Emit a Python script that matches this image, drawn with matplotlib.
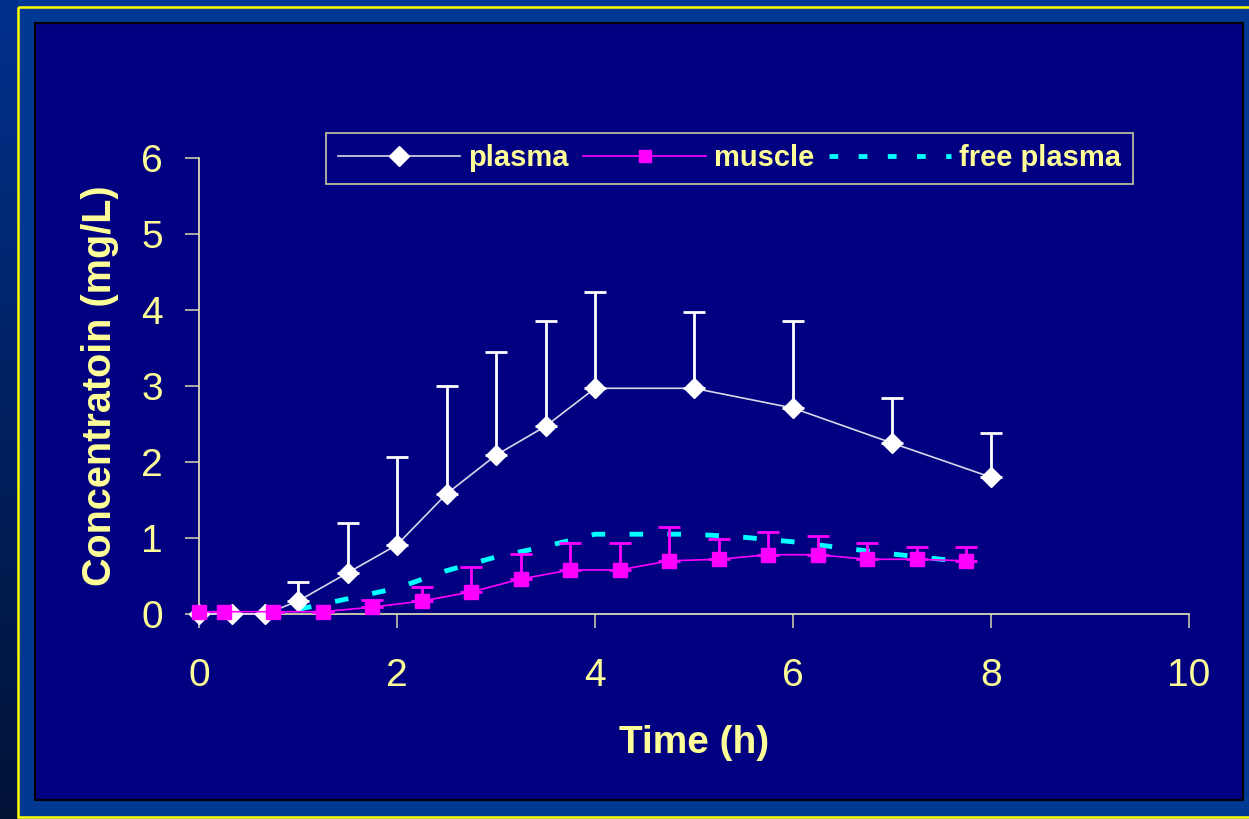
import numpy as np
import matplotlib
matplotlib.use("Agg")
import matplotlib.pyplot as plt
from matplotlib.patches import Rectangle
from matplotlib.lines import Line2D

plt.rcParams['font.family'] = ['Liberation Sans', 'DejaVu Sans']

# plasma (mean, upper SD)
plasma_t = [0, 0.33, 0.67, 1, 1.5, 2, 2.5, 3, 3.5, 4, 5, 6, 7, 8]
plasma_c = [0, 0, 0, 0.17, 0.54, 0.91, 1.58, 2.09, 2.47, 2.97, 2.97, 2.71, 2.25, 1.80]
plasma_sd = [0, 0, 0, 0.25, 0.66, 1.16, 1.42, 1.36, 1.39, 1.27, 1.00, 1.15, 0.59, 0.58]

# muscle
muscle_t = [0, 0.25, 0.75, 1.25, 1.75, 2.25, 2.75, 3.25, 3.75, 4.25,
            4.75, 5.25, 5.75, 6.25, 6.75, 7.25, 7.75]
muscle_c = [0.03, 0.03, 0.03, 0.03, 0.09, 0.17, 0.29, 0.46, 0.58, 0.58,
            0.70, 0.72, 0.78, 0.78, 0.72, 0.72, 0.70]
muscle_sd = [0, 0, 0, 0, 0.09, 0.19, 0.33, 0.33, 0.35, 0.35,
             0.44, 0.27, 0.30, 0.25, 0.21, 0.16, 0.18]

# free plasma
free_t = [1, 1.5, 2, 2.5, 3, 3.5, 4, 5, 5.5, 6, 6.5, 7, 7.5, 7.8]
free_c = [0.06, 0.2, 0.34, 0.57, 0.75, 0.89, 1.05, 1.05, 1.01, 0.95, 0.87, 0.79, 0.72, 0.68]

W, H = 1249, 819
fig = plt.figure(figsize=(W / 100, H / 100), dpi=100)

# slide background
bg = fig.add_axes([0, 0, 1, 1])
bg.set_xlim(0, W)
bg.set_ylim(H, 0)
bg.axis('off')
bg.add_patch(Rectangle((0, 0), W, H, color='#003893', zorder=0))
grad = np.linspace(0, 1, 200).reshape(-1, 1)
cmap = matplotlib.colors.LinearSegmentedColormap.from_list('g', ['#00308c', '#001236'])
bg.imshow(grad, cmap=cmap, extent=(0, 18, H, 0), aspect='auto', zorder=1)
bg.add_patch(Rectangle((18, 7), W, 810, fill=False, edgecolor='#ffff00', lw=1.8, zorder=2))
bg.add_patch(Rectangle((35, 23), 1208, 777, facecolor='#000080', edgecolor='black', lw=1.5, zorder=3))

ax = fig.add_axes([199 / W, 1 - 614 / H, 990 / W, 456 / H])
ax.set_facecolor('none')
ax.set_xlim(0, 10)
ax.set_ylim(0, 6)

ax.plot(free_t, free_c, color='#00ffff', lw=3.5, dashes=(2.8, 5), zorder=3)

ax.errorbar(plasma_t, plasma_c, yerr=[np.zeros(len(plasma_sd)), plasma_sd],
            fmt='none', ecolor='white', elinewidth=2, capsize=8, capthick=2, zorder=4)
ax.plot(plasma_t, plasma_c, color='#d8d8e8', lw=1.2, marker='D', ms=10.5,
        mfc='white', mec='white', clip_on=False, zorder=5)

ax.errorbar(muscle_t, muscle_c, yerr=[np.zeros(len(muscle_sd)), muscle_sd],
            fmt='none', ecolor='#ff00ff', elinewidth=2, capsize=8, capthick=2, zorder=4)
ax.plot(muscle_t, muscle_c, color='#ff00ff', lw=1.2, marker='s', ms=10,
        mfc='#ff00ff', mec='#ff00ff', clip_on=False, zorder=6)

for s in ['top', 'right']:
    ax.spines[s].set_visible(False)
for s in ['left', 'bottom']:
    ax.spines[s].set_color('#e8e8b8')
    ax.spines[s].set_linewidth(1.2)

ax.set_xticks([0, 2, 4, 6, 8, 10])
ax.set_yticks([0, 1, 2, 3, 4, 5, 6])
ax.tick_params(axis='both', colors='#c8c8a8', labelcolor='#ffff99', labelsize=28,
               length=10, width=1.2)
ax.tick_params(axis='y', pad=16)
ax.tick_params(axis='x', pad=22)

ax.set_xlabel('Time (h)', fontsize=28, fontweight='bold', color='#ffff99', labelpad=22)
ax.set_ylabel('Concentratoin (mg/L)', fontsize=28.5, fontweight='bold', color='#ffff99', labelpad=16)

handles = [
    Line2D([], [], color='#d8d8e8', lw=1.2, marker='D', ms=10, mfc='white', mec='white'),
    Line2D([], [], color='#ff00ff', lw=1.2, marker='s', ms=9, mfc='#ff00ff', mec='#ff00ff'),
    Line2D([], [], color='#00ffff', lw=3.5, dashes=(1.8, 4.2)),
]
leg = fig.legend(handles, ['plasma', 'muscle', 'free plasma'], ncol=3,
                 loc='center', bbox_to_anchor=(729.5 / W, 1 - 158.5 / H),
                 frameon=True, fancybox=False, facecolor='#000080', edgecolor='#c8c8a0',
                 prop={'size': 21, 'weight': 'bold'}, handlelength=4.2,
                 handletextpad=0.28, columnspacing=0.5, borderpad=0.38)
leg.get_frame().set_linewidth(1.2)
leg.get_frame().set_alpha(1)
for t in leg.get_texts():
    t.set_color('#ffff99')

fig.savefig('out.png', dpi=100, facecolor=fig.get_facecolor())
